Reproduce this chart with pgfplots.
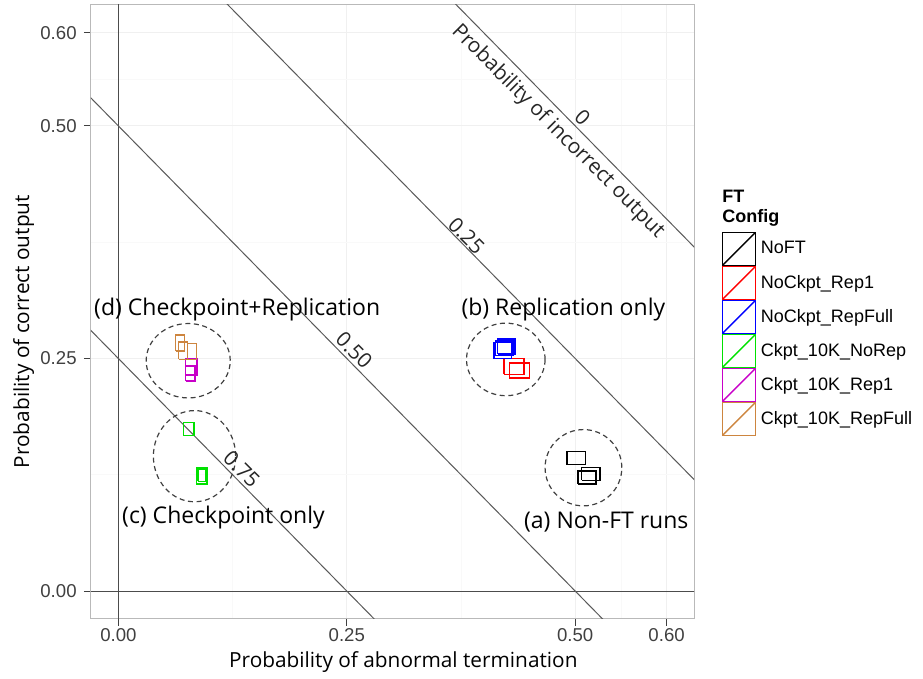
\documentclass[border=0pt]{standalone}
\usepackage{pgfplots}
\pgfplotsset{compat=1.18}
\usepackage{fontspec}
\setmainfont{Open Sans}
\newfontfamily\lib{Liberation Sans}
\definecolor{cNoFT}{RGB}{0,0,0}
\definecolor{cRep1}{RGB}{255,0,0}
\definecolor{cRepFull}{RGB}{0,0,255}
\definecolor{cNoRep}{RGB}{0,225,0}
\definecolor{cCRep1}{RGB}{200,0,200}
\definecolor{cCRepFull}{RGB}{205,133,63}
\begin{document}
\begin{tikzpicture}
\begin{axis}[
 name=ax, at={(0,0)}, anchor=south west,
 scale only axis, width=301.5pt, height=307pt,
 xmin=-0.03, xmax=0.63, ymin=-0.03, ymax=0.63,
 xtick={0,0.25,0.5,0.6}, xticklabels={0.00,0.25,0.50,0.60},
 ytick={0,0.25,0.5,0.6}, yticklabels={0.00,0.25,0.50,0.60},
 minor xtick={0.125,0.375,0.55}, minor ytick={0.125,0.375,0.55},
 grid=both,
 major grid style={color=gray!12, line width=0.5pt},
 minor grid style={color=gray!5, line width=0.4pt},
 axis line style={gray!55, line width=0.5pt},
 tick align=outside, tick pos=left,
 major tick length=3.5pt, minor tick length=0pt,
 major tick style={black!75, line width=0.5pt},
 /pgf/number format/assume math mode=true,
 ticklabel style={font=\lib\fontsize{9.3}{11}\selectfont, text=black!75, inner sep=0pt},
 xticklabel style={anchor=base, yshift=-7.8pt},
 yticklabel style={anchor=east, xshift=-3.5pt},
 xlabel={Probability of abnormal termination},
 ylabel={Probability of correct output},
 label style={font=\fontsize{10.4}{12}\selectfont, inner sep=0pt},
 xlabel style={at={(axis description cs:0.518,-0.0782)}, anchor=base},
 ylabel style={at={(axis description cs:-0.1028,0.468)}, anchor=base},
 legend style={at={(rel axis cs:1.0464,0.6303)}, anchor=north west, draw=none, fill=none,
   inner sep=0pt, outer sep=0pt, row sep=0pt, column sep=0pt,
   font=\lib\fontsize{9}{10.8}\selectfont, nodes={inner sep=2.5pt}},
 legend cell align=left,
 legend image code/.code={
   \draw[#1,line width=0.7pt] (0pt,-8.15pt) rectangle (16.3pt,8.15pt);
   \draw[#1,line width=0.7pt] (0pt,-8.15pt) -- (16.3pt,8.15pt);
 },
]
% reference lines
\addplot[black!70, line width=0.5pt, forget plot] coordinates {(0,-0.1) (0,0.7)};
\addplot[black!70, line width=0.5pt, forget plot] coordinates {(-0.1,0) (0.7,0)};
\addplot[black!65, line width=0.5pt, forget plot] coordinates {(0.3,0.7) (0.7,0.3)};
\addplot[black!65, line width=0.5pt, forget plot] coordinates {(0.05,0.7) (0.7,0.05)};
\addplot[black!65, line width=0.5pt, forget plot] coordinates {(-0.1,0.6) (0.6,-0.1)};
\addplot[black!65, line width=0.5pt, forget plot] coordinates {(-0.1,0.35) (0.35,-0.1)};
% dashed circles
\draw[black!75, line width=0.6pt, dash pattern=on 2.5pt off 1.8pt] (axis cs:0.0764,0.2476) ellipse [x radius=0.046, y radius=0.040];
\draw[black!75, line width=0.6pt, dash pattern=on 2.5pt off 1.8pt] (axis cs:0.0833,0.145) ellipse [x radius=0.045, y radius=0.049];
\draw[black!75, line width=0.6pt, dash pattern=on 2.5pt off 1.8pt] (axis cs:0.424,0.249) ellipse [x radius=0.043, y radius=0.039];
\draw[black!75, line width=0.6pt, dash pattern=on 2.5pt off 1.8pt] (axis cs:0.509,0.1326) ellipse [x radius=0.042, y radius=0.041];
% first rectangle of each series (legend)
\addplot[cNoFT, line width=0.75pt] coordinates {(0.491,0.136) (0.511,0.136) (0.511,0.150) (0.491,0.150) (0.491,0.136)};
\addlegendentry{NoFT}
\addplot[cRep1, line width=0.75pt] coordinates {(0.422,0.233) (0.444,0.233) (0.444,0.250) (0.422,0.250) (0.422,0.233)};
\addlegendentry{NoCkpt\_Rep1}
\addplot[cRepFull, line width=0.75pt] coordinates {(0.411,0.250) (0.430,0.250) (0.430,0.267) (0.411,0.267) (0.411,0.250)};
\addlegendentry{NoCkpt\_RepFull}
\addplot[cNoRep, line width=0.75pt] coordinates {(0.0714,0.167) (0.083,0.167) (0.083,0.181) (0.0714,0.181) (0.0714,0.167)};
\addlegendentry{Ckpt\_10K\_NoRep}
\addplot[cCRep1, line width=0.75pt] coordinates {(0.0735,0.232) (0.086,0.232) (0.086,0.250) (0.0735,0.250) (0.0735,0.232)};
\addlegendentry{Ckpt\_10K\_Rep1}
\addplot[cCRepFull, line width=0.75pt] coordinates {(0.0625,0.258) (0.0725,0.258) (0.0725,0.275) (0.0625,0.275) (0.0625,0.258)};
\addlegendentry{Ckpt\_10K\_RepFull}
% remaining rectangles
\addplot[cNoFT, line width=0.75pt, forget plot] coordinates {(0.503,0.115) (0.523,0.115) (0.523,0.129) (0.503,0.129) (0.503,0.115)};
\addplot[cNoFT, line width=0.75pt, forget plot] coordinates {(0.507,0.119) (0.527,0.119) (0.527,0.133) (0.507,0.133) (0.507,0.119)};
\addplot[cRep1, line width=0.75pt, forget plot] coordinates {(0.428,0.229) (0.450,0.229) (0.450,0.245) (0.428,0.245) (0.428,0.229)};
\addplot[cRepFull, line width=0.75pt, forget plot] coordinates {(0.415,0.255) (0.434,0.255) (0.434,0.271) (0.415,0.271) (0.415,0.255)};
\addplot[cRepFull, line width=0.75pt, forget plot] coordinates {(0.413,0.253) (0.432,0.253) (0.432,0.269) (0.413,0.269) (0.413,0.253)};
\addplot[cNoRep, line width=0.75pt, forget plot] coordinates {(0.0852,0.115) (0.097,0.115) (0.097,0.133) (0.0852,0.133) (0.0852,0.115)};
\addplot[cNoRep, line width=0.75pt, forget plot] coordinates {(0.087,0.118) (0.096,0.118) (0.096,0.131) (0.087,0.131) (0.087,0.118)};
\addplot[cCRep1, line width=0.75pt, forget plot] coordinates {(0.0735,0.226) (0.084,0.226) (0.084,0.242) (0.0735,0.242) (0.0735,0.226)};
\addplot[cCRepFull, line width=0.75pt, forget plot] coordinates {(0.066,0.249) (0.0757,0.249) (0.0757,0.268) (0.066,0.268) (0.066,0.249)};
\addplot[cCRepFull, line width=0.75pt, forget plot] coordinates {(0.0757,0.249) (0.0852,0.249) (0.0852,0.266) (0.0757,0.266) (0.0757,0.249)};
% line labels
\node[rotate=-45, font=\fontsize{10.4}{12}\selectfont, text=black!85, inner sep=0pt] at (axis cs:0.508,0.509) {0};
\node[rotate=-45, font=\fontsize{10.4}{12}\selectfont, text=black!85, inner sep=0pt] at (axis cs:0.381,0.382) {0.25};
\node[rotate=-45, font=\fontsize{10.4}{12}\selectfont, text=black!85, inner sep=0pt] at (axis cs:0.258,0.259) {0.50};
\node[rotate=-45, font=\fontsize{10.4}{12}\selectfont, text=black!85, inner sep=0pt] at (axis cs:0.135,0.131) {0.75};
\node[rotate=-45, font=\fontsize{10.4}{12}\selectfont, text=black!85, inner sep=0pt] at (axis cs:0.481,0.494) {Probability of incorrect output};
% cluster annotations
\node[font=\fontsize{11.5}{13}\selectfont, inner sep=0pt] at (axis cs:0.130,0.303) {(d) Checkpoint+Replication};
\node[font=\fontsize{11.5}{13}\selectfont, inner sep=0pt] at (axis cs:0.487,0.303) {(b) Replication only};
\node[font=\fontsize{11.5}{13}\selectfont, inner sep=0pt] at (axis cs:0.115,0.079) {(c) Checkpoint only};
\node[font=\fontsize{11.5}{13}\selectfont, inner sep=0pt] at (axis cs:0.534,0.0745) {(a) Non-FT runs};
\end{axis}
\node[anchor=base west, inner sep=0pt, font=\lib\bfseries\fontsize{9}{10.8}\selectfont] at ([shift={(315.5pt,208pt)}]ax.south west) {FT};
\node[anchor=base west, inner sep=0pt, font=\lib\bfseries\fontsize{9}{10.8}\selectfont] at ([shift={(315.5pt,198pt)}]ax.south west) {Config};
\pgfresetboundingbox
\useasboundingbox (ax.south west) ++(-45.5pt,-30pt) rectangle ++(461.5pt,339.5pt);
\end{tikzpicture}
\end{document}
